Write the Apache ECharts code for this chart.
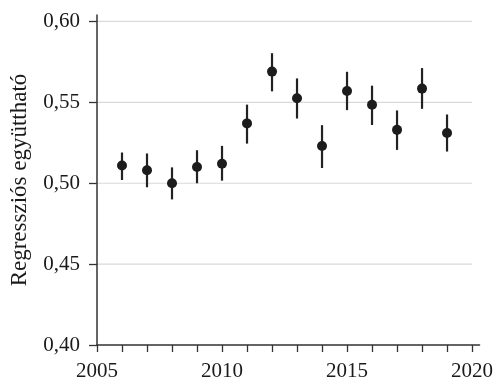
<!DOCTYPE html>
<html><head><meta charset="utf-8">
<script src="https://cdn.jsdelivr.net/npm/echarts@6/dist/echarts.min.js"></script>
<style>html,body{margin:0;padding:0;background:#fff}#c{width:496px;height:382px}</style>
</head><body><div id="c"></div>
<script>
const years = [2006,2007,2008,2009,2010,2011,2012,2013,2014,2015,2016,2017,2018,2019];
const coef  = [0.511,0.508,0.500,0.510,0.512,0.537,0.569,0.5525,0.523,0.557,0.5485,0.533,0.5585,0.531];
const lower = [0.502,0.4975,0.490,0.500,0.5016,0.5245,0.5568,0.540,0.5094,0.5452,0.536,0.5206,0.546,0.5196];
const upper = [0.519,0.5184,0.5098,0.5204,0.5231,0.5486,0.5804,0.5648,0.5359,0.5689,0.5603,0.545,0.5712,0.5425];
const xTicks = [2005,2006,2007,2008,2009,2010,2011,2012,2013,2014,2015,2016,2017,2018,2019,2020];
const xLabels = [2005,2010,2015,2020];
const yTicks = [0.40,0.45,0.50,0.55,0.60];
const yName = 'Regressziós együttható';

const FONT = 'Liberation Serif';
const chart = echarts.init(document.getElementById('c'));
chart.setOption({
  animation: false,
  grid: {left: 95, right: 16, top: 15, bottom: 35},
  xAxis: {
    type: 'value', min: 2005, max: 2020.3,
    axisLine: {show: true, lineStyle: {color: '#333', width: 1.5}},
    axisTick: {show: true, length: 7, lineStyle: {color: '#333', width: 1.3}, customValues: xTicks},
    axisLabel: {customValues: xLabels, color: '#1a1a1a', fontFamily: FONT, fontSize: 21, margin: 16, formatter: v => String(v)},
    splitLine: {show: false}
  },
  yAxis: {
    type: 'value', min: 0.40, max: 0.604,
    name: yName, nameLocation: 'middle', nameGap: 66,
    nameTextStyle: {color: '#1a1a1a', fontFamily: FONT, fontSize: 23},
    axisLine: {show: true, lineStyle: {color: '#333', width: 1.5}},
    axisTick: {show: true, length: 8, lineStyle: {color: '#333', width: 1.3}, customValues: yTicks},
    axisLabel: {customValues: yTicks, color: '#1a1a1a', fontFamily: FONT, fontSize: 21, margin: 17,
      formatter: v => v.toFixed(2).replace('.', ',')},
    splitLine: {show: false}
  },
  series: [
    {
      type: 'custom', z: 0, silent: true,
      data: yTicks.slice(1).map(v => [v]),
      renderItem: (params, api) => {
        const v = api.value(0);
        const a = api.coord([xTicks[0], v]);
        const b = api.coord([xTicks[xTicks.length - 1], v]);
        return {type: 'line', shape: {x1: a[0], y1: a[1], x2: b[0], y2: b[1]},
          style: {stroke: '#d9d9d9', lineWidth: 1.2}};
      }
    },
    {
      type: 'custom', z: 2,
      data: years.map((y, i) => [y, lower[i], upper[i]]),
      renderItem: (params, api) => {
        const a = api.coord([api.value(0), api.value(1)]);
        const b = api.coord([api.value(0), api.value(2)]);
        return {type: 'line', shape: {x1: a[0], y1: a[1], x2: b[0], y2: b[1]},
          style: {stroke: '#222', lineWidth: 2.2}};
      }
    },
    {
      type: 'scatter', z: 3, symbol: 'circle', symbolSize: 10,
      itemStyle: {color: '#1c1c1c', opacity: 1},
      data: years.map((y, i) => [y, coef[i]])
    }
  ]
});
</script></body></html>
